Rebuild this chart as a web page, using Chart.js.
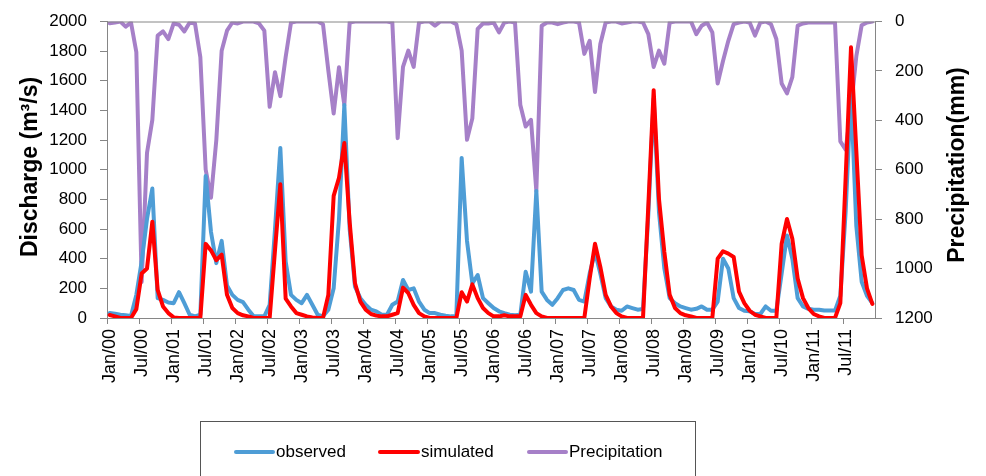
<!DOCTYPE html>
<html>
<head>
<meta charset="utf-8">
<script src="https://cdn.jsdelivr.net/npm/chart.js@4.4.1/dist/chart.umd.min.js"></script>
<style>
  html, body { margin: 0; padding: 0; background: #fff; }
  #wrap { width: 986px; height: 476px; }
</style>
</head>
<body>
<div id="wrap"><canvas id="hydroChart"></canvas></div>
<script>
// months Jan/00 .. Dec/11
const years = ['00','01','02','03','04','05','06','07','08','09','10','11'];
const monthNames = ['Jan','Feb','Mar','Apr','May','Jun','Jul','Aug','Sep','Oct','Nov','Dec'];
const months = years.flatMap(y => monthNames.map(m => m + '/' + y));

// discharge, m3/s
const observed = [
  33,29,22,18,13,156,380,668,873,134,122,105,
  100,174,100,22,11,22,958,580,370,520,220,156,
  122,107,56,11,11,11,89,600,1147,380,156,122,
  100,156,89,22,11,56,200,668,1436,600,211,134,
  89,56,45,22,22,89,111,256,189,200,111,56,
  33,33,22,16,11,11,1080,520,234,290,134,100,
  67,45,33,22,18,22,312,178,857,178,122,89,
  134,189,200,189,122,111,300,445,300,134,78,56,
  49,78,67,56,60,700,1480,713,334,134,100,78,
  67,56,62,78,56,56,111,400,334,134,67,49,
  45,27,27,78,49,49,300,557,400,134,78,62,
  56,56,50,50,50,150,720,1520,620,245,150,100
];
const simulated = [
  20,11,0,0,0,60,300,334,650,189,78,33,
  4,0,0,0,0,0,500,456,390,427,156,67,
  33,18,11,0,0,0,0,456,902,130,78,33,
  22,11,4,0,0,156,824,946,1180,646,234,111,
  56,27,16,11,11,22,33,205,167,89,33,11,
  0,0,0,0,0,0,174,111,227,134,67,33,
  11,11,18,11,11,11,156,89,33,11,0,0,
  0,0,0,0,0,0,267,501,345,156,78,33,
  11,0,0,0,0,760,1537,802,445,156,67,33,
  18,11,0,0,0,0,400,450,434,412,178,100,
  49,22,11,0,0,0,501,668,534,267,134,67,
  27,11,0,0,0,100,950,1826,1125,423,200,95
];
// precipitation, mm (right axis, reversed)
const precipitation = [
  7,4,0,21,4,124,1054,532,398,57,40,71,
  8,13,40,4,8,144,599,713,479,118,37,4,
  8,0,0,0,8,37,345,205,302,144,4,0,
  0,0,0,0,11,198,372,185,338,4,0,0,
  0,0,0,0,0,4,472,184,118,184,4,0,
  0,17,0,0,0,11,118,479,392,30,8,8,
  4,44,4,0,4,338,425,398,686,17,4,4,
  11,4,0,0,4,131,78,285,91,4,0,0,
  8,4,0,0,4,51,184,118,171,4,0,0,
  0,0,51,17,4,44,251,160,78,11,4,0,
  4,57,4,0,11,71,251,291,225,17,8,4,
  4,4,4,4,4,485,519,350,140,15,4,0
];
const dischargeTicks = [0,200,400,600,800,1000,1200,1400,1600,1800,2000];
const precipTicks = [0,200,400,600,800,1000,1200];

const axisGray = '#868686';
const font = { family: 'Liberation Sans', size: 17, lineHeight: 1 };

// axis titles, plot frame and boxed legend
const decorations = {
  id: 'decorations',
  afterDraw(chart) {
    const c = chart.ctx, a = chart.chartArea;
    c.save();
    c.strokeStyle = axisGray;
    c.lineWidth = 1;
    c.beginPath();
    c.moveTo(a.left, a.top + 0.5);
    c.lineTo(a.right, a.top + 0.5);
    c.stroke();

    c.fillStyle = '#000';
    c.font = 'bold 23px "Liberation Sans"';
    c.textAlign = 'center';
    c.textBaseline = 'middle';
    c.save();
    c.translate(31, 167);
    c.rotate(-Math.PI / 2);
    c.fillText('Discharge (m³/s)', 0, 0);
    c.restore();
    c.save();
    c.translate(958, 165);
    c.rotate(-Math.PI / 2);
    c.fillText('Precipitation(mm)', 0, 0);
    c.restore();

    // legend
    c.strokeStyle = '#555';
    c.strokeRect(200.5, 421.5, 495, 70);
    const items = [[236, 276], [380, 421], [529, 569]];
    c.font = '17px "Liberation Sans"';
    c.textAlign = 'left';
    chart.data.datasets.forEach((ds, i) => {
      const [lx, tx] = items[i];
      c.strokeStyle = ds.borderColor;
      c.lineWidth = 4;
      c.lineCap = 'round';
      c.beginPath();
      c.moveTo(lx, 452);
      c.lineTo(tx - 3, 452);
      c.stroke();
      c.fillStyle = '#000';
      c.fillText(ds.label, tx, 452);
    });
    c.restore();
  }
};

const everySixth = ctx => (ctx.index % 6 === 0 ? axisGray : 'rgba(0,0,0,0)');

const ctx = document.getElementById('hydroChart').getContext('2d');
const myChart = new Chart(ctx, {
  type: 'line',
  data: {
    labels: months,
    datasets: [
      { label: 'observed', data: observed, yAxisID: 'y', borderColor: '#4E9DD6', order: 1 },
      { label: 'simulated', data: simulated, yAxisID: 'y', borderColor: '#FF0000', order: 0 },
      { label: 'Precipitation', data: precipitation, yAxisID: 'y2', borderColor: '#A680C8', order: 2 }
    ]
  },
  options: {
    responsive: true,
    maintainAspectRatio: false,
    animation: false,
    layout: { padding: { top: 19, left: 0, right: 0, bottom: 0 } },
    elements: {
      line: { borderWidth: 4, tension: 0, borderJoinStyle: 'round', borderCapStyle: 'round', fill: false },
      point: { radius: 0, hoverRadius: 0 }
    },
    plugins: { legend: { display: false }, tooltip: { enabled: false } },
    scales: {
      x: {
        type: 'category',
        offset: true,
        grid: { offset: true, drawOnChartArea: false, tickLength: 6, color: everySixth, tickColor: everySixth },
        border: { color: axisGray },
        ticks: {
          autoSkip: false, maxRotation: 90, minRotation: 90, padding: 5,
          color: '#000', font: { family: 'Liberation Sans', size: 18, lineHeight: 1 },
          callback: (v, i) => (i % 6 === 0 ? months[i] : '')
        },
        afterFit: s => { s.height = 158; }
      },
      y: {
        position: 'left',
        min: 0, max: 2000,
        afterBuildTicks: s => { s.ticks = dischargeTicks.map(v => ({ value: v })); },
        grid: { drawOnChartArea: false, tickLength: 7, color: axisGray },
        border: { color: axisGray },
        ticks: { padding: 13, color: '#000', font: font, callback: v => String(v) },
        afterFit: s => { s.width = 107; }
      },
      y2: {
        position: 'right',
        reverse: true,
        min: 0, max: 1200,
        afterBuildTicks: s => { s.ticks = precipTicks.map(v => ({ value: v })); },
        grid: { drawOnChartArea: false, tickLength: 7, color: axisGray },
        border: { color: axisGray },
        ticks: { padding: 13, color: '#000', font: font, callback: v => String(v) },
        afterFit: s => { s.width = 111; }
      }
    }
  },
  plugins: [decorations]
});
</script>
</body>
</html>
